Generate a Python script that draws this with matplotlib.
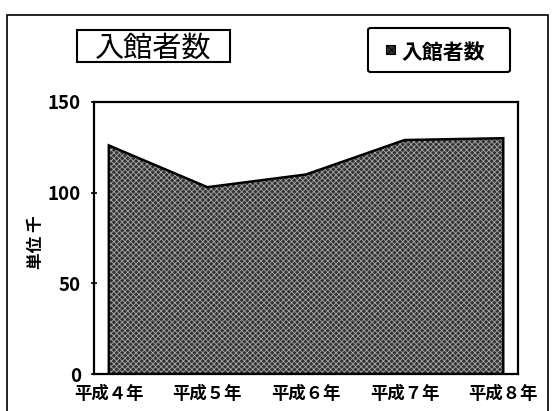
import numpy as np
import matplotlib.pyplot as plt
from matplotlib.patches import Rectangle, FancyBboxPatch

plt.rcParams['font.family'] = ['Noto Sans CJK JP', 'DejaVu Sans']
plt.rcParams['hatch.linewidth'] = 0.6

years = ['平成４年', '平成５年', '平成６年', '平成７年', '平成８年']
visitors = [126, 103, 110, 129, 130]
yticks = [0, 50, 100, 150]

fig = plt.figure(figsize=(5.55, 4.11), dpi=100)
ax = fig.add_axes([0.1694, 0.090, 0.764, 0.662])

x = np.arange(len(years))
px = list(x) + [x[-1], x[0]]
py = list(visitors) + [0, 0]
ax.fill(px, py, facecolor='#333333', edgecolor='#a8a8a8', hatch='xxxxxx', linewidth=0)
ax.fill(px, py, facecolor='none', edgecolor='black', linewidth=1.8)

ax.set_xlim(-0.15, len(years) - 1 + 0.15)
ax.set_ylim(0, 150)
ax.set_xticks(x)
ax.set_xticklabels(years, fontsize=12.5, fontweight='bold')
ax.set_yticks(yticks)
ax.set_yticklabels([str(v) for v in yticks], fontsize=13.5, fontweight='bold')
ax.tick_params(axis='x', length=0, pad=8)
ax.tick_params(axis='y', direction='inout', length=5, width=1.2, pad=7)
for s in ax.spines.values():
    s.set_linewidth(1.6)
ax.set_ylabel('単位 千', fontsize=12, fontweight='bold')
ax.yaxis.set_label_coords(-0.116, 0.485)

# outer frame
fig.patches.append(Rectangle((7 / 555, -0.05), 541 / 555, 1 - 15 / 411 + 0.05,
                             transform=fig.transFigure, fill=False,
                             edgecolor='black', linewidth=1.2))

# title box
fig.patches.append(Rectangle((77 / 555, 1 - 62 / 411), 153 / 555, 32 / 411,
                             transform=fig.transFigure, facecolor='white',
                             edgecolor='black', linewidth=1.5))
fig.text(153 / 555, 1 - 49 / 411, '入館者数', fontsize=21, ha='center', va='center')

# legend box
fig.patches.append(FancyBboxPatch((368 / 555, 1 - 72 / 411), 142 / 555, 44 / 411,
                                  boxstyle='round,pad=0,rounding_size=0.005',
                                  transform=fig.transFigure, facecolor='white',
                                  edgecolor='black', linewidth=1.5))
fig.patches.append(Rectangle((386 / 555, 1 - 54 / 411), 9 / 555, 9 / 411,
                             transform=fig.transFigure, facecolor='#333333',
                             edgecolor='black', hatch='xxxx', linewidth=0.8))
fig.text(401 / 555, 1 - 52 / 411, '入館者数', fontsize=15, fontweight='bold',
         ha='left', va='center')

fig.savefig('out.png', dpi=100)
